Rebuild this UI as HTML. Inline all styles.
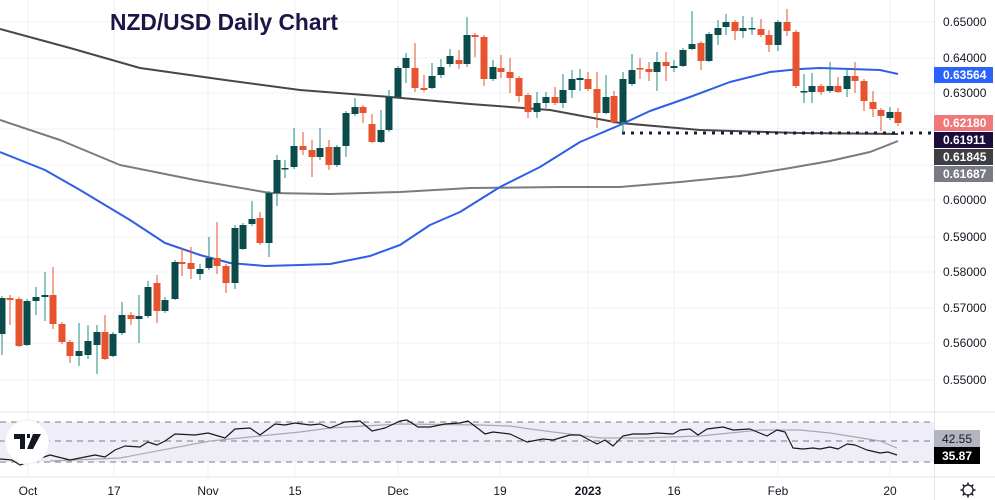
<!DOCTYPE html>
<html><head><meta charset="utf-8"><style>
html,body{margin:0;padding:0;background:#fff;}
svg{display:block;font-family:"Liberation Sans",sans-serif;}
</style></head><body>
<svg id="s" width="995" height="500" viewBox="0 0 995 500" xmlns="http://www.w3.org/2000/svg"></svg>
<script>
const S=document.getElementById('s');
let h='';
// grid
const vx=[28,114,208,295,398,500,588,674,778,890];
vx.forEach(x=>h+=`<line x1="${x}" y1="0" x2="${x}" y2="477" stroke="#eef0f3" stroke-width="1"/>`);
[22,58,93,129,165,200,237,272,308,343,380].forEach(y=>h+=`<line x1="0" y1="${y}" x2="934" y2="${y}" stroke="#eef0f3"/>`);
// RSI pane
h+=`<rect x="0" y="422" width="934" height="40" fill="#efedf8"/>`;
[422,441,462].forEach(y=>h+=`<line x1="0" y1="${y}" x2="934" y2="${y}" stroke="#787b86" stroke-dasharray="6,5" stroke-width="1"/>`);
h+=`<line x1="0" y1="412" x2="995" y2="412" stroke="#e0e3eb"/>`;
h+=`<line x1="0" y1="477" x2="995" y2="477" stroke="#e0e3eb"/>`;
h+=`<line x1="934.5" y1="0" x2="934.5" y2="500" stroke="#e0e3eb"/>`;
// MAs
const pl=(pts,c,w)=>`<polyline fill="none" stroke="${c}" stroke-width="${w}" stroke-linejoin="round" points="${pts}"/>`;
h+=pl("0,29 70,48 140,68 225,80 300,90 390,97 470,104 550,110 620,123 700,130 800,133 898,134","#474747",2);
h+=pl("0,120 60,140 120,165 195,180 270,193 330,194 400,192 470,188 560,187 620,187 680,182 740,176 790,168 830,161 870,152 898,141","#7b7b7b",2);
h+=pl("0,152 45,170 80,190 130,220 165,243 200,255 230,263 265,266 300,265 330,264 370,256 400,245 430,225 460,212 500,187 540,167 580,142 620,125 650,111 690,97 730,82 770,72 800,69 820,68 850,69 880,70 898,74","#2f5ee8",2);
// dotted
h+=`<line x1="622" y1="133" x2="934" y2="133" stroke="#1b1a3a" stroke-width="3" stroke-dasharray="3,6"/>`;
// candles: x, color g/r, bodyTop, bodyBot, wickTop, wickBot
const C=[[2,'g',298,334,296,355],[10,'r',298,300,295,325],[19,'r',299,346,297,347],[27,'g',301,345,299,346],[36,'g',297,301,287,315],[45,'g',295,297,272,321],[53,'r',295,324,267,329],[62,'r',324,342,322,344],[70,'r',342,356,340,363],[79,'g',351,356,323,366],[88,'g',341,355,325,359],[97,'g',332,345,325,374],[105,'r',332,359,315,360],[113,'g',334,356,332,357],[122,'g',315,333,302,335],[131,'r',315,319,312,325],[139,'g',316,319,295,343],[148,'g',287,316,281,318],[157,'r',283,311,275,323],[165,'g',300,311,297,313],[175,'g',262,299,260,300],[182,'r',262,264,248,276],[191,'r',263,269,247,279],[200,'g',269,274,264,280],[209,'g',258,268,237,270],[217,'r',258,266,222,274],[226,'r',266,283,264,293],[235,'g',228,283,225,289],[243,'g',225,249,223,250],[252,'g',219,224,201,226],[260,'r',218,243,212,245],[269,'g',193,243,191,257],[277,'g',160,193,155,206],[285,'g',168,169,160,178],[294,'g',146,167,128,169],[303,'r',146,150,132,155],[312,'r',150,157,140,177],[320,'g',148,157,128,160],[329,'r',147,165,140,170],[337,'g',147,165,145,167],[346,'g',113,146,111,157],[355,'g',107,114,98,116],[363,'r',107,113,105,123],[372,'r',124,142,114,143],[381,'g',130,142,110,143],[389,'g',97,130,90,132],[398,'g',68,97,66,99],[406,'g',58,68,53,83],[415,'r',68,88,43,92],[424,'r',88,90,75,92],[432,'g',76,88,63,89],[441,'g',67,75,59,78],[450,'g',56,64,49,67],[459,'r',60,64,50,69],[467,'g',35,64,17,67],[475,'r',35,37,33,57],[484,'r',37,79,35,86],[493,'g',67,79,60,81],[501,'r',68,72,55,78],[510,'r',72,78,58,93],[519,'r',78,96,76,102],[528,'r',95,112,93,118],[537,'g',103,112,92,118],[546,'g',97,103,92,108],[555,'r',97,103,87,105],[563,'g',90,103,74,108],[572,'g',79,90,70,98],[580,'g',78,80,69,91],[588,'r',79,89,72,91],[597,'r',89,113,72,128],[606,'g',97,113,75,114],[614,'r',96,122,91,124],[623,'g',79,122,72,133],[632,'g',70,84,54,86],[640,'r',68,69,58,79],[649,'r',69,72,62,81],[657,'g',62,72,52,91],[666,'r',62,66,52,81],[674,'g',66,68,60,72],[683,'g',50,66,48,67],[692,'g',44,49,11,50],[701,'r',43,61,41,70],[709,'g',34,61,32,62],[718,'g',28,35,20,45],[726,'g',22,27,14,35],[735,'r',22,31,20,40],[743,'g',28,31,16,38],[752,'g',28,29,17,35],[761,'r',29,35,19,37],[769,'r',35,45,30,52],[778,'g',22,45,20,51],[787,'r',22,31,9,36],[796,'r',32,86,30,88],[804,'g',91,92,74,103],[812,'g',86,92,73,103],[821,'r',86,92,84,95],[830,'g',86,91,62,93],[838,'r',86,92,77,93],[847,'g',76,89,68,97],[855,'r',76,81,62,93],[864,'r',81,101,79,111],[873,'r',102,109,91,117],[881,'r',110,116,108,131],[890,'g',112,118,107,120],[898,'r',112,123,108,126]];
C.forEach(([x,c,bt,bb,wt,wb])=>{
 const body=c=='g'?'#0c4b4b':'#e8532f', wick=c=='g'?'#1f8c82':'#e8532f';
 h+=`<line x1="${x}" y1="${wt}" x2="${x}" y2="${wb}" stroke="${wick}" stroke-width="1"/>`;
 h+=`<rect x="${x-3.5}" y="${bt}" width="7" height="${Math.max(1.5,bb-bt)}" fill="${body}"/>`;
});
// RSI lines
h+=pl("50,461 120,458 210,441 300,432 330,428 400,424 480,425 510,426 530,429 600,438 640,438 700,436 760,430 800,430 830,433 880,441 897,448","#a9a9b3",1.2);
h+=pl("0,459 12,460 20,465 50,455 70,460 95,455 105,457 115,450 125,446 140,447 148,442 157,445 165,441 175,434 195,435 208,433 225,438 235,429 250,428 260,435 275,424 285,425 295,423 310,425 320,424 330,428 345,422 360,421 372,431 385,428 400,421 407,420 418,427 430,427 445,424 460,423 468,421 480,430 485,434 493,432 510,434 527,442 543,439 553,440 570,435 580,435 597,444 605,440 613,446 623,436 633,434 647,434 657,433 673,434 680,430 690,429 698,435 707,429 723,427 733,430 750,429 767,436 777,430 785,432 793,448 803,449 813,448 820,449 830,447 838,449 847,444 855,445 867,450 880,453 888,452 897,455","#1a1a1a",1.2);
// logo
h+=`<circle cx="27" cy="442" r="22" fill="#fff" stroke="#eee"/>`;
h+=`<path d="M14 434 h11 v15 h-5 v-10 h-6z M27 434 h3 v4 h-3z M33 434 h8 l-8 15 h-6z" fill="#131722"/>`;
// title
h+=`<text x="110" y="30" font-size="23" font-weight="bold" fill="#1e1446" textLength="228" lengthAdjust="spacingAndGlyphs">NZD/USD Daily Chart</text>`;
// price labels
[[22,'0.65000'],[58,'0.64000'],[93,'0.63000'],[200,'0.60000'],[237,'0.59000'],[272,'0.58000'],[308,'0.57000'],[343,'0.56000'],[380,'0.55000']].forEach(([y,t])=>h+=`<text x="943" y="${y+4}" font-size="12" fill="#131722">${t}</text>`);
[[67,'#2962ff','0.63564'],[115,'#f07878','0.62180'],[132,'#1b0c3a','0.61911'],[149,'#3e3e44','0.61845'],[166,'#787b86','0.61687']].forEach(([y,c,t])=>{h+=`<rect x="934" y="${y}" width="59" height="16" fill="${c}"/><text x="943" y="${y+12}" font-size="12" font-weight="bold" fill="#fff">${t}</text>`;});
h+=`<rect x="934" y="430" width="46" height="17" fill="#b2b5be"/><text x="942" y="443" font-size="12" fill="#131722">42.55</text>`;
h+=`<rect x="934" y="447" width="46" height="17" fill="#000"/><text x="942" y="460" font-size="12" font-weight="bold" fill="#fff">35.87</text>`;
// time labels
[[28,'Oct'],[114,'17'],[208,'Nov'],[295,'15'],[398,'Dec'],[500,'19'],[588,'2023'],[674,'16'],[778,'Feb'],[890,'20']].forEach(([x,t])=>h+=`<text x="${x}" y="495" font-size="12" fill="#131722" text-anchor="middle" ${t=='2023'?'font-weight="bold"':''}>${t}</text>`);
// gear
h+=`<circle cx="968" cy="490" r="5" fill="none" stroke="#131722" stroke-width="1.3"/>`;
for(let i=0;i<8;i++){const a=i*Math.PI/4;h+=`<line x1="${968+5*Math.cos(a)}" y1="${490+5*Math.sin(a)}" x2="${968+7.5*Math.cos(a)}" y2="${490+7.5*Math.sin(a)}" stroke="#131722" stroke-width="1.5"/>`;}
S.innerHTML=h;
</script>
</body></html>
